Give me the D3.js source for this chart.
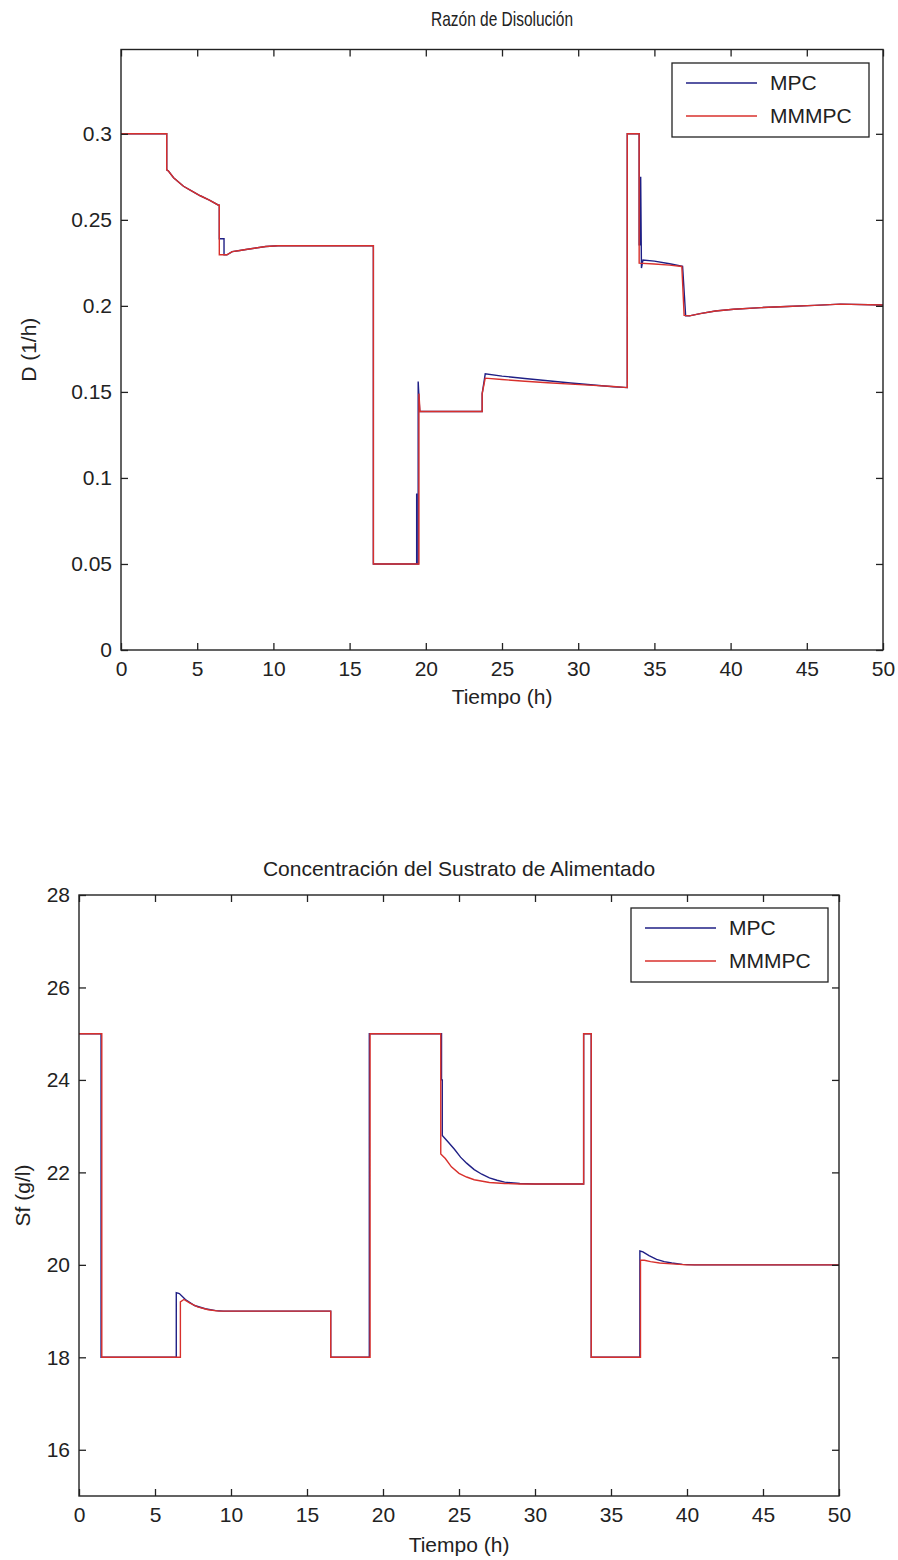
<!DOCTYPE html>
<html lang="es">
<head>
    <meta charset="UTF-8">
    <title>Razón de Disolución / Sustrato</title>
    <script src="https://d3js.org/d3.v7.min.js"></script>
</head>

<style>
    body {
        margin: 0;
        background: #fff;
    }

    svg text {
        font-family: "Liberation Sans", Arial, sans-serif;
        fill: #222;
    }
</style>

<body>
<div class="chart-container"></div>

<script>
  /** DATA */
  var seriesNames = ['MPC', 'MMMPC'];
  var xTicks = [0, 5, 10, 15, 20, 25, 30, 35, 40, 45, 50];

  // Razón de Disolución, D (1/h)
  var dTicks = [0, 0.05, 0.1, 0.15, 0.2, 0.25, 0.3];
  var dMpcT = [0, 3.0, 3.0, 3.1, 3.45, 4.1, 4.6, 5.2, 5.8, 6.4, 6.45, 6.45, 6.76, 6.76, 6.95, 7.3, 7.8, 8.3, 9.5, 10.3,
    16.56, 16.56, 19.4, 19.4, 19.4, 19.5, 19.5, 19.6, 23.7, 23.7, 23.9, 25, 26.5, 28, 29.5, 31, 32.3, 33.22, 33.22,
    34.0, 34.0, 34.1, 34.1, 34.15, 34.25, 35, 36, 36.85, 37.05, 37.3, 38, 39, 40.2, 42, 43.7, 45.5, 47.2, 50];
  var dMpcV = [0.3, 0.3, 0.279, 0.2785, 0.2745, 0.2695, 0.267, 0.264, 0.2615, 0.2585, 0.2585, 0.239, 0.239, 0.2297, 0.2297, 0.2315, 0.2322, 0.2329, 0.2345, 0.2349,
    0.2349, 0.05, 0.05, 0.091, 0.05, 0.05, 0.156, 0.1386, 0.1386, 0.149, 0.1605, 0.1592, 0.1578, 0.1565, 0.1552, 0.154, 0.153, 0.1525, 0.3,
    0.3, 0.2355, 0.2355, 0.275, 0.222, 0.2267, 0.226, 0.2245, 0.223, 0.1942, 0.1942, 0.1955, 0.197, 0.198, 0.199, 0.1996, 0.2003, 0.201, 0.2005];
  var dMmmpcT = [0, 3.0, 3.0, 3.1, 3.45, 4.1, 4.6, 5.2, 5.8, 6.4, 6.45, 6.45, 6.95, 7.3, 7.8, 8.3, 9.5, 10.3,
    16.56, 16.56, 19.55, 19.55, 19.62, 23.7, 23.7, 23.9, 25, 26.5, 28, 29.5, 31, 32.3, 33.22, 33.22,
    34.0, 34.0, 35, 36, 36.8, 36.95, 37.3, 38, 39, 40.2, 42, 43.7, 45.5, 47.2, 50];
  var dMmmpcV = [0.3, 0.3, 0.279, 0.2785, 0.2745, 0.2695, 0.267, 0.264, 0.2615, 0.2585, 0.2585, 0.2297, 0.2297, 0.2315, 0.2322, 0.2329, 0.2345, 0.2349,
    0.2349, 0.05, 0.05, 0.149, 0.1386, 0.1386, 0.149, 0.158, 0.1572, 0.1562, 0.1553, 0.1545, 0.1538, 0.1531, 0.1525, 0.3,
    0.3, 0.2248, 0.2243, 0.2237, 0.2229, 0.1945, 0.1942, 0.1955, 0.197, 0.198, 0.199, 0.1996, 0.2003, 0.201, 0.2005];

  // Concentración del Sustrato de Alimentado, Sf (g/l)
  var sfTicks = [16, 18, 20, 22, 24, 26, 28];
  var sfMpcT = [0, 1.45, 1.45, 6.4, 6.4, 6.6, 7.0, 7.6, 8.3, 9.0, 9.5, 16.56, 16.56, 19.1, 19.1, 23.85, 23.85, 23.9, 23.9,
    24.3, 24.7, 25.1, 25.5, 26, 26.5, 27, 27.5, 28, 29, 30, 33.2, 33.2, 33.7, 33.7, 36.9, 36.9, 37.1, 37.5, 38, 38.5, 39, 39.7, 40.5, 50];
  var sfMpcV = [25, 25, 18, 18, 19.4, 19.38, 19.25, 19.12, 19.05, 19.01, 19, 19, 18, 18, 25, 25, 24, 24, 22.8,
    22.65, 22.5, 22.33, 22.2, 22.06, 21.96, 21.88, 21.83, 21.79, 21.76, 21.75, 21.75, 25, 25, 18, 18, 20.3, 20.28, 20.2, 20.12, 20.07, 20.04, 20.01, 20, 20];
  var sfMmmpcT = [0, 1.5, 1.5, 6.67, 6.67, 6.9, 7.3, 7.8, 8.5, 9.2, 16.56, 16.56, 19.15, 19.15, 23.8, 23.8, 24.1, 24.5,
    25, 25.5, 26, 27, 28, 29, 33.2, 33.2, 33.7, 33.7, 36.94, 36.94, 37.2, 37.6, 38.2, 39, 40, 50];
  var sfMmmpcV = [25, 25, 18, 18, 19.2, 19.25, 19.17, 19.09, 19.03, 19, 19, 18, 18, 25, 25, 22.4, 22.3, 22.12,
    21.98, 21.9, 21.84, 21.78, 21.76, 21.75, 21.75, 25, 25, 18, 18, 20.1, 20.1, 20.07, 20.04, 20.02, 20, 20];

  /** LAYOUT + STYLE */
  var colors = {MPC: '#1f1f85', MMMPC: '#d8302c'};
  var fontSize = 21;
  var tickLen = 7;

  var svg = d3.select('.chart-container')
    .append('svg')
    .attr('width', 898)
    .attr('height', 1560);

  function zip(ts, vs) {
    return ts.map(function (t, i) { return [t, vs[i]]; });
  }

  drawPanel({
    box: {left: 121, right: 883, top: 49.5, bottom: 650},
    yDomain: [0, 0.349],
    yTicks: dTicks,
    yFormat: function (d) { return d === 0 ? '0' : String(d); },
    title: 'Razón de Disolución',
    titleY: 26,
    titleLength: 142,
    yLabel: 'D (1/h)',
    yLabelX: 36,
    xLabelY: 704,
    legend: {right: 869, top: 63},
    series: [zip(dMpcT, dMpcV), zip(dMmmpcT, dMmmpcV)]
  });

  drawPanel({
    box: {left: 79, right: 839, top: 895, bottom: 1496},
    yDomain: [15, 28],
    yTicks: sfTicks,
    yFormat: String,
    title: 'Concentración del Sustrato de Alimentado',
    titleY: 876,
    titleLength: null,
    yLabel: 'Sf (g/l)',
    yLabelX: 30,
    xLabelY: 1552,
    legend: {right: 828, top: 908},
    series: [zip(sfMpcT, sfMpcV), zip(sfMmmpcT, sfMmmpcV)]
  });

  /** FUNCTIONS **/
  function drawPanel(cfg) {
    var b = cfg.box;
    var x = d3.scaleLinear().domain([0, 50]).range([b.left, b.right]);
    var y = d3.scaleLinear().domain(cfg.yDomain).range([b.bottom, b.top]);
    var g = svg.append('g');

    // lines: MPC first, MMMPC drawn over it
    var line = d3.line()
      .x(function (d) { return x(d[0]); })
      .y(function (d) { return y(d[1]); });
    cfg.series.forEach(function (pts, i) {
      g.append('path')
        .attr('d', line(pts))
        .attr('fill', 'none')
        .attr('stroke', colors[seriesNames[i]])
        .attr('stroke-width', 1.4);
    });

    // axes with inward ticks on all 4 sides
    var axes = [
      {ax: d3.axisBottom(x).tickValues(xTicks).tickFormat(d3.format('d')), tr: [0, b.bottom], labels: true, pad: 11},
      {ax: d3.axisTop(x).tickValues(xTicks), tr: [0, b.top], labels: false, pad: 0},
      {ax: d3.axisLeft(y).tickValues(cfg.yTicks).tickFormat(cfg.yFormat), tr: [b.left, 0], labels: true, pad: 9},
      {ax: d3.axisRight(y).tickValues(cfg.yTicks), tr: [b.right, 0], labels: false, pad: 0}
    ];
    axes.forEach(function (a) {
      var ag = g.append('g')
        .attr('transform', 'translate(' + a.tr[0] + ',' + a.tr[1] + ')')
        .call(a.ax.tickSize(-tickLen).tickSizeOuter(0).tickPadding(a.pad));
      ag.select('.domain').remove();
      ag.selectAll('line').attr('stroke', '#222').attr('stroke-width', 1.3);
      ag.selectAll('text')
        .style('font-size', fontSize + 'px')
        .style('font-family', '"Liberation Sans", Arial, sans-serif')
        .attr('fill', '#222');
      if (!a.labels) ag.selectAll('text').remove();
    });

    g.append('rect')
      .attr('x', b.left).attr('y', b.top)
      .attr('width', b.right - b.left).attr('height', b.bottom - b.top)
      .attr('fill', 'none')
      .attr('stroke', '#222')
      .attr('stroke-width', 1.4);

    // titles
    var cx = (b.left + b.right) / 2;
    var t = g.append('text')
      .attr('x', cx).attr('y', cfg.titleY)
      .attr('text-anchor', 'middle')
      .style('font-size', fontSize + 'px')
      .text(cfg.title);
    if (cfg.titleLength) {
      t.attr('textLength', cfg.titleLength).attr('lengthAdjust', 'spacingAndGlyphs');
    }

    g.append('text')
      .attr('x', cx).attr('y', cfg.xLabelY)
      .attr('text-anchor', 'middle')
      .style('font-size', fontSize + 'px')
      .text('Tiempo (h)');

    g.append('text')
      .attr('transform', 'translate(' + cfg.yLabelX + ',' + ((b.top + b.bottom) / 2) + ') rotate(-90)')
      .attr('text-anchor', 'middle')
      .style('font-size', fontSize + 'px')
      .text(cfg.yLabel);

    // legend box
    var lw = 197, lh = 74;
    var lg = g.append('g')
      .attr('transform', 'translate(' + (cfg.legend.right - lw) + ',' + cfg.legend.top + ')');
    lg.append('rect')
      .attr('width', lw).attr('height', lh)
      .attr('fill', '#fff')
      .attr('stroke', '#222')
      .attr('stroke-width', 1.3);
    seriesNames.forEach(function (name, i) {
      var ly = 20 + i * 33;
      lg.append('line')
        .attr('x1', 14).attr('x2', 85)
        .attr('y1', ly).attr('y2', ly)
        .attr('stroke', colors[name])
        .attr('stroke-width', 1.4);
      lg.append('text')
        .attr('x', 98).attr('y', ly + 7)
        .style('font-size', fontSize + 'px')
        .text(name);
    });
  }
</script>
</body>
</html>
